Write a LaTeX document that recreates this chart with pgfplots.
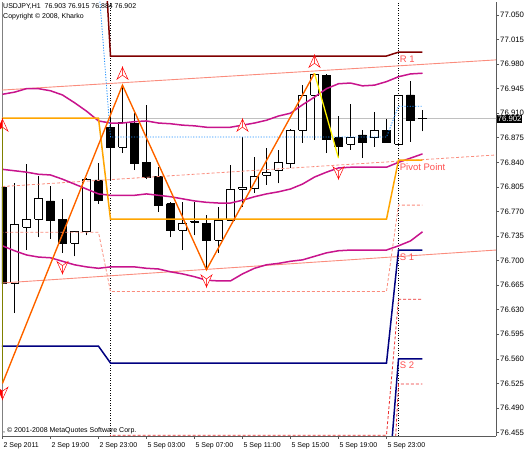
\documentclass[border=0pt]{standalone}
\usepackage{fontspec}
\setmainfont{Liberation Sans}
\usepackage{pgfplots}
\usepackage{pgfplotstable}
\pgfplotsset{compat=1.18}

\definecolor{bandC}{RGB}{200,20,140}
\definecolor{maroonC}{RGB}{128,0,0}
\definecolor{navyC}{RGB}{0,0,128}
\definecolor{salmonC}{RGB}{250,140,125}
\definecolor{pivotC}{RGB}{255,165,0}
\definecolor{zigC}{RGB}{255,130,0}
\definecolor{zigR}{RGB}{255,69,0}
\definecolor{oliveC}{RGB}{128,128,0}
\definecolor{blueDot}{RGB}{30,144,255}
\definecolor{redDash}{RGB}{235,45,45}
\definecolor{labred}{RGB}{255,80,80}
\definecolor{priceC}{RGB}{192,192,192}
\definecolor{frameC}{RGB}{90,90,90}

% fractal arrows
\pgfdeclareplotmark{fracup}{%
  \pgfpathmoveto{\pgfqpoint{0pt}{6pt}}\pgfpathlineto{\pgfqpoint{-5.5pt}{-6pt}}%
  \pgfpathlineto{\pgfqpoint{0pt}{-2pt}}\pgfpathclose\pgfusepath{fill,stroke}%
  \pgfsetfillcolor{white}%
  \pgfpathmoveto{\pgfqpoint{0pt}{6pt}}\pgfpathlineto{\pgfqpoint{5.5pt}{-6pt}}%
  \pgfpathlineto{\pgfqpoint{0pt}{-2pt}}\pgfpathclose\pgfusepath{fill,stroke}}
\pgfdeclareplotmark{fracdown}{%
  \pgfpathmoveto{\pgfqpoint{0pt}{-6pt}}\pgfpathlineto{\pgfqpoint{-5.5pt}{6pt}}%
  \pgfpathlineto{\pgfqpoint{0pt}{2pt}}\pgfpathclose\pgfusepath{fill,stroke}%
  \pgfsetfillcolor{white}%
  \pgfpathmoveto{\pgfqpoint{0pt}{-6pt}}\pgfpathlineto{\pgfqpoint{5.5pt}{6pt}}%
  \pgfpathlineto{\pgfqpoint{0pt}{2pt}}\pgfpathclose\pgfusepath{fill,stroke}}

% hourly candles, k = bar index (0 = 2 Sep 15:00)
\pgfplotstableread{
k  O      H      L      C
0  76.805 76.870 76.525 76.668
1  76.668 76.810 76.625 76.751
2  76.748 76.838 76.715 76.759
3  76.759 76.820 76.733 76.788
4  76.785 76.806 76.731 76.758
5  76.759 76.788 76.711 76.725
6  76.725 76.742 76.706 76.742
7  76.741 76.818 76.736 76.816
8  76.815 76.839 76.781 76.786
9  76.890 76.917 76.815 76.862
10 76.862 76.950 76.853 76.897
11 76.896 76.910 76.829 76.838
12 76.840 76.922 76.816 76.818
13 76.820 76.833 76.769 76.779
14 76.781 76.783 76.733 76.743
15 76.743 76.783 76.715 76.753
16 76.755 76.783 76.736 76.756
17 76.753 76.765 76.687 76.729
18 76.729 76.776 76.711 76.758
19 76.758 76.836 76.757 76.802
20 76.802 76.876 76.776 76.805
21 76.803 76.848 76.796 76.820
22 76.822 76.860 76.808 76.826
23 76.829 76.858 76.810 76.840
24 76.838 76.887 76.832 76.885
25 76.886 76.950 76.868 76.936
26 76.936 76.967 76.872 76.966
27 76.964 76.966 76.853 76.873
28 76.875 76.906 76.846 76.863
29 76.866 76.923 76.858 76.876
30 76.879 76.886 76.846 76.868
31 76.875 76.912 76.862 76.886
32 76.886 76.902 76.868 76.869
33 76.866 76.935 76.864 76.935
34 76.936 76.956 76.869 76.900
35 76.903 76.915 76.884 76.902
}\candles

% envelope bands
\pgfplotstableread{
k  up     mid    lo
0  76.937 76.830 76.721
1  76.940 76.828 76.714
2  76.945 76.826 76.708
3  76.945 76.823 76.705
4  76.942 76.822 76.704
5  76.936 76.816 76.699
6  76.925 76.809 76.694
7  76.913 76.802 76.691
8  76.899 76.795 76.689
9  76.896 76.793 76.691
10 76.896 76.793 76.691
11 76.898 76.793 76.691
12 76.899 76.795 76.689
13 76.896 76.793 76.688
14 76.895 76.791 76.684
15 76.893 76.788 76.681
16 76.892 76.785 76.677
17 76.890 76.783 76.672
18 76.890 76.782 76.671
19 76.890 76.782 76.671
20 76.893 76.786 76.681
21 76.896 76.791 76.689
22 76.900 76.795 76.694
23 76.906 76.798 76.696
24 76.910 76.802 76.699
25 76.922 76.809 76.701
26 76.933 76.819 76.706
27 76.945 76.826 76.711
28 76.952 76.832 76.714
29 76.953 76.833 76.715
30 76.949 76.833 76.715
31 76.950 76.833 76.715
32 76.955 76.833 76.715
33 76.962 76.840 76.721
34 76.966 76.846 76.728
35 76.967 76.852 76.741
}\bands

\begin{document}
\begin{tikzpicture}
\begin{axis}[
    scale only axis,
    width=494pt, height=434pt,
    xmin=-0.04, xmax=41.125,
    ymin=76.450, ymax=77.0685,
    axis x line*=bottom,
    axis y line*=right,
    axis line style={frameC, line width=0.8pt},
    tick align=outside,
    major tick length=3pt,
    every tick/.style={frameC, line width=0.6pt},
    xtick={0,4,8,12,16,20,24,28,32},
    xticklabels={2 Sep 2011,2 Sep 19:00,2 Sep 23:00,5 Sep 03:00,5 Sep 07:00,5 Sep 11:00,5 Sep 15:00,5 Sep 19:00,5 Sep 23:00},
    xticklabel style={anchor=north west, xshift=-2.5pt, font=\fontsize{7}{8}\selectfont},
    ytick={76.455,76.490,76.525,76.560,76.595,76.630,76.665,76.700,76.735,76.770,76.805,76.840,76.875,76.910,76.945,76.980,77.015,77.050},
    yticklabels={76.455,76.490,76.525,76.560,76.595,76.630,76.665,76.700,76.735,76.770,76.805,76.840,76.875,76.910,76.945,76.980,77.015,77.050},
    yticklabel style={font=\fontsize{7.8}{9}\selectfont, inner xsep=1pt},
    candle/.style={black, line width=0.7pt, mark=none},
]

% left frame line
\draw[gray, line width=0.8pt] (rel axis cs:0,0) -- (rel axis cs:0,1);

% current price line
\addplot[priceC, line width=0.7pt] coordinates {(-1,76.902) (42,76.902)};

% candles
\pgfplotsforeachungrouped \i in {0,...,35}{%
  \pgfplotstablegetelem{\i}{k}\of\candles\let\cK\pgfplotsretval
  \pgfplotstablegetelem{\i}{O}\of\candles\let\cO\pgfplotsretval
  \pgfplotstablegetelem{\i}{H}\of\candles\let\cH\pgfplotsretval
  \pgfplotstablegetelem{\i}{L}\of\candles\let\cL\pgfplotsretval
  \pgfplotstablegetelem{\i}{C}\of\candles\let\cC\pgfplotsretval
  \pgfmathsetmacro\xa{\cK-0.33}%
  \pgfmathsetmacro\xb{\cK+0.33}%
  \pgfmathtruncatemacro\bull{\cC>=\cO}%
  \ifnum\bull=1 \def\bodyfill{white}\else\def\bodyfill{black}\fi
  \edef\doplot{%
    \noexpand\addplot[candle] coordinates {(\cK,\cL) (\cK,\cH)};
    \noexpand\addplot[candle, fill=\bodyfill] coordinates {(\xa,\cO) (\xb,\cO) (\xb,\cC) (\xa,\cC) (\xa,\cO)};
  }\doplot
}

% day separators
\addplot[black, line width=0.7pt, dash pattern=on 1pt off 1.5pt] coordinates {(9,76.3) (9,77.2)};
\addplot[black, line width=0.7pt, dash pattern=on 1pt off 1.5pt] coordinates {(33,76.3) (33,77.2)};

% regression channel
\addplot[salmonC, line width=0.9pt] coordinates {(-0.04,76.943) (41.125,76.986)};
\addplot[salmonC, line width=0.9pt] coordinates {(-0.04,76.668) (41.125,76.715)};
\addplot[salmonC, line width=0.8pt, dash pattern=on 3pt off 2pt] coordinates {(-0.04,76.8055) (41.125,76.8505)};

% bands
\addplot[bandC, line width=1.5pt] table[x=k, y=up] {\bands};
\addplot[bandC, line width=1.5pt] table[x=k, y=mid] {\bands};
\addplot[bandC, line width=1.5pt] table[x=k, y=lo] {\bands};

% pivot levels
\addplot[maroonC, line width=1.5pt] coordinates {(8,77.289) (9,76.9915) (32,76.9915) (33,76.997) (35,76.997)};
\addplot[blueDot, line width=0.8pt, dash pattern=on 1.2pt off 1.5pt] coordinates {(8,77.096) (9,76.876) (32,76.876) (33,76.920) (35,76.920)};
\addplot[pivotC, line width=1.5pt] coordinates {(-1,76.903) (8,76.903) (9,76.759) (32,76.759) (33,76.843) (35,76.843)};
\addplot[salmonC, line width=0.8pt, dash pattern=on 3pt off 2pt] coordinates {(-1,76.7405) (8,76.7405) (9,76.656) (32,76.656) (33,76.779) (35,76.779)};
\addplot[navyC, line width=1.5pt] coordinates {(-1,76.578) (8,76.578) (9,76.554) (32,76.554) (33,76.715) (35,76.715)};
\addplot[redDash, line width=0.8pt, dash pattern=on 3pt off 2pt] coordinates {(8,76.40) (9,76.4512) (32,76.4512) (33,76.645) (35,76.645)};
\addplot[redDash, line width=0.8pt, dash pattern=on 3pt off 2pt] coordinates {(32,76.20) (33,76.524) (35,76.524)};
\addplot[navyC, line width=1.5pt] coordinates {(32,76.346) (33,76.560) (35,76.560)};

% zigzags
\addplot[oliveC, line width=1.2pt] coordinates {(0.02,76.903) (0.02,76.525)};
\addplot[zigC, line width=1.4pt] coordinates {(0,76.525) (10,76.950) (17,76.687) (26,76.967)};
\addplot[zigR, line width=0.5pt] coordinates {(0,76.525) (10,76.950) (17,76.687) (26,76.967)};
\addplot[yellow, line width=1.3pt] coordinates {(26,76.967) (28,76.846)};

% fractals
\addplot[only marks, mark=fracup, red, line width=0.5pt] coordinates {(0,76.893) (10,76.967) (20,76.893) (26,76.984)};
\addplot[only marks, mark=fracdown, red, line width=0.5pt] coordinates {(0,76.511) (5,76.690) (17,76.671) (28,76.825)};

% level labels
\node[anchor=west, labred, inner sep=0pt, font=\fontsize{9.5}{10}\selectfont] at (axis cs:33.1,76.987) {R 1};
\node[anchor=west, labred, inner sep=0pt, font=\fontsize{9.5}{10}\selectfont] at (axis cs:33.1,76.833) {Pivot Point};
\node[anchor=west, labred, inner sep=0pt, font=\fontsize{9.5}{10}\selectfont] at (axis cs:33.1,76.705) {S 1};
\node[anchor=west, labred, inner sep=0pt, font=\fontsize{9.5}{10}\selectfont] at (axis cs:33.1,76.551) {S 2};
\end{axis}

% texts in the chart window
\node[anchor=west, inner sep=0pt, font=\fontsize{7}{8}\selectfont] at (1pt,429pt) {USDJPY,H1\ \ 76.903 76.915 76.884 76.902};
\node[anchor=west, inner sep=0pt, font=\fontsize{7}{8}\selectfont] at (1pt,419pt) {Copyright © 2008, Kharko};
\node[anchor=west, inner sep=0pt, font=\fontsize{7}{8}\selectfont] at (1pt,5pt) {, © 2001-2008 MetaQuotes Software Corp.};
\node[anchor=west, fill=black, text=white, inner xsep=0.5pt, inner ysep=1.5pt, font=\fontsize{7.8}{9}\selectfont] at (495pt,317pt) {76.902};

\pgfresetboundingbox
\path (-2pt,-14pt) rectangle (523pt,436pt);
\end{tikzpicture}
\end{document}
